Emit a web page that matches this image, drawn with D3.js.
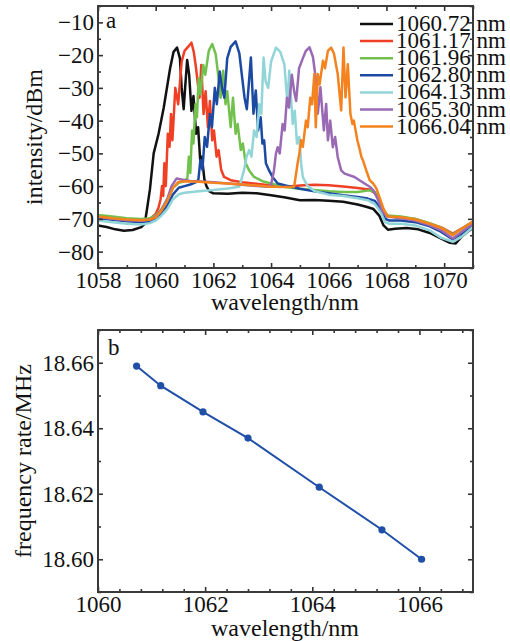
<!DOCTYPE html>
<html><head><meta charset="utf-8">
<script src="https://cdn.jsdelivr.net/npm/d3@7"></script>
<style>
body{margin:0;background:#fff;}
</style></head>
<body><svg id="c" width="510" height="641"></svg>
<script>
// ---------- DATA ----------
const seriesNames = ["1060.72 nm","1061.17 nm","1061.96 nm","1062.80 nm","1064.13 nm","1065.30 nm","1066.04 nm"];
const seriesColors = ["#111111","#ef4026","#72c14f","#1c4aa3","#92d5d8","#9a69b4","#f4821f"];

const spec1060_72 = [[1058.0,-72.0],[1058.3,-72.5],[1058.6,-73.2],[1058.9,-73.6],[1059.2,-73.4],[1059.5,-72.5],[1059.62,-71.5],[1059.7,-67],[1059.8,-61],[1059.93,-50],[1060.1,-44],[1060.28,-36],[1060.5,-24],[1060.62,-19],[1060.74,-17.7],[1060.84,-21],[1060.9,-30],[1060.97,-36.5],[1061.02,-30],[1061.09,-21.5],[1061.16,-26],[1061.24,-37],[1061.31,-32.5],[1061.4,-44],[1061.47,-42],[1061.55,-53],[1061.6,-51],[1061.69,-58],[1061.76,-60],[1061.85,-61.5],[1062.0,-62.2],[1062.5,-62.3],[1063.0,-62.0],[1063.5,-62.2],[1064.0,-62.8],[1064.5,-63.5],[1065.0,-64.3],[1065.5,-64.2],[1066.0,-64.5],[1066.5,-64.8],[1067.0,-65.6],[1067.3,-66.3],[1067.55,-67],[1067.75,-69],[1067.9,-72],[1068.05,-73.3],[1068.3,-73],[1068.7,-72.8],[1069.1,-73.2],[1069.5,-74.3],[1069.9,-76],[1070.2,-77.3],[1070.4,-77.5],[1070.6,-75.5],[1070.8,-74],[1071.0,-72.8]];
const spec1061_17 = [[1058.0,-69.5],[1058.5,-70.0],[1059.0,-70.4],[1059.5,-70.5],[1059.8,-70],[1060.0,-68.5],[1060.1,-66.5],[1060.17,-64],[1060.22,-60],[1060.26,-63],[1060.3,-53],[1060.35,-60],[1060.42,-44],[1060.48,-48],[1060.53,-38],[1060.58,-46],[1060.68,-30],[1060.78,-35],[1060.9,-22],[1061.0,-18.7],[1061.12,-17.5],[1061.24,-16.2],[1061.32,-19],[1061.4,-24],[1061.45,-28],[1061.52,-33],[1061.58,-23],[1061.66,-38],[1061.73,-31],[1061.81,-42],[1061.88,-34],[1061.96,-46],[1062.02,-43],[1062.11,-51],[1062.18,-49],[1062.27,-55],[1062.37,-57.2],[1062.6,-58.2],[1063.0,-58.8],[1063.5,-59.3],[1064.0,-59.8],[1064.5,-60.2],[1065.0,-59.8],[1065.5,-59.6],[1066.0,-59.7],[1066.5,-60.1],[1067.0,-60.6],[1067.4,-61],[1067.65,-62.5],[1067.8,-65],[1067.95,-68.5],[1068.1,-69.3],[1068.5,-69.5],[1069.0,-70],[1069.5,-71.5],[1069.9,-72.6],[1070.3,-74.5],[1070.6,-73],[1071.0,-70.8]];
const spec1061_96 = [[1058.0,-68.8],[1058.5,-69.3],[1059.0,-69.8],[1059.5,-70.0],[1059.8,-69.8],[1060.0,-69],[1060.2,-67],[1060.4,-64],[1060.6,-60.5],[1060.8,-59],[1061.0,-58.5],[1061.1,-57.5],[1061.15,-51],[1061.2,-56],[1061.26,-43],[1061.31,-47],[1061.38,-35],[1061.43,-39],[1061.49,-27],[1061.55,-32],[1061.65,-23],[1061.72,-26],[1061.84,-18.7],[1061.96,-16.6],[1062.08,-19.7],[1062.19,-27.8],[1062.25,-33],[1062.34,-24.8],[1062.42,-35],[1062.48,-31],[1062.6,-42],[1062.68,-33],[1062.77,-44],[1062.84,-41],[1062.95,-49],[1063.02,-47],[1063.12,-53],[1063.24,-55.2],[1063.41,-57.2],[1063.7,-58.5],[1064.0,-59.2],[1064.5,-60.3],[1065.0,-60.8],[1065.5,-61.2],[1066.0,-61.6],[1066.5,-61.8],[1067.0,-61.8],[1067.4,-61.3],[1067.6,-61.8],[1067.75,-64],[1067.9,-67.5],[1068.05,-69],[1068.5,-69.3],[1069.0,-70],[1069.5,-71.3],[1069.9,-72.7],[1070.3,-74.8],[1070.6,-73],[1071.0,-71]];
const spec1062_80 = [[1058.0,-69.8],[1058.5,-70.3],[1059.0,-70.7],[1059.5,-71],[1059.8,-70.8],[1060.0,-70],[1060.2,-68.5],[1060.4,-66],[1060.6,-62.5],[1060.8,-60.5],[1061.0,-60],[1061.2,-59.5],[1061.4,-58.8],[1061.48,-58],[1061.55,-52],[1061.62,-55],[1061.7,-45],[1061.78,-48],[1061.88,-38],[1061.95,-42],[1062.05,-30],[1062.12,-35],[1062.22,-25],[1062.3,-30],[1062.38,-33],[1062.48,-21],[1062.6,-17.5],[1062.77,-15.8],[1062.9,-19.5],[1063.0,-27],[1063.08,-33],[1063.16,-36.5],[1063.3,-20.7],[1063.39,-37.9],[1063.47,-30.8],[1063.55,-43],[1063.64,-39],[1063.7,-47],[1063.76,-46],[1063.82,-53],[1063.93,-55.2],[1064.05,-57.2],[1064.23,-59.2],[1064.5,-59.8],[1065.0,-60.8],[1065.5,-61.6],[1066.0,-62.2],[1066.5,-62.8],[1067.0,-63.3],[1067.35,-63.8],[1067.6,-64.5],[1067.8,-67],[1067.95,-70],[1068.1,-70.5],[1068.5,-70.5],[1069.0,-71],[1069.5,-72.3],[1069.9,-74],[1070.3,-76.3],[1070.6,-74.5],[1071.0,-72]];
const spec1064_13 = [[1058.0,-70.5],[1058.5,-71],[1059.0,-71.5],[1059.5,-71.7],[1059.8,-71.3],[1060.0,-70.5],[1060.2,-69],[1060.4,-67],[1060.6,-64],[1060.8,-62.5],[1061.0,-62],[1061.5,-61.6],[1062.0,-61.2],[1062.5,-60.7],[1062.9,-60.2],[1063.06,-55.2],[1063.15,-51],[1063.24,-49],[1063.32,-51],[1063.41,-43],[1063.5,-45],[1063.59,-35],[1063.66,-38],[1063.74,-20.7],[1063.81,-28],[1063.9,-30],[1064.0,-22],[1064.17,-17.7],[1064.32,-19],[1064.46,-22.8],[1064.57,-34.9],[1064.63,-24.8],[1064.75,-41],[1064.82,-37],[1064.9,-47],[1064.98,-45],[1065.04,-53],[1065.1,-57.2],[1065.25,-59.8],[1065.5,-61.5],[1066.0,-62.6],[1066.5,-63],[1067.0,-63.7],[1067.35,-64.3],[1067.6,-65.5],[1067.8,-68],[1067.95,-71],[1068.1,-71.5],[1068.5,-71.5],[1069.0,-72],[1069.5,-73.5],[1069.9,-75.8],[1070.3,-77],[1070.6,-75.5],[1071.0,-72.5]];
const spec1065_30 = [[1058.0,-69.5],[1058.5,-70],[1059.0,-70.4],[1059.5,-70.6],[1059.8,-70.3],[1060.0,-69.3],[1060.2,-67.3],[1060.4,-64],[1060.55,-60],[1060.72,-57.7],[1060.9,-58],[1061.2,-58.4],[1061.6,-58.6],[1062.0,-58.8],[1062.5,-59.2],[1063.0,-59.6],[1063.5,-60],[1063.9,-60.2],[1064.0,-59.5],[1064.1,-55.2],[1064.17,-50],[1064.23,-48.1],[1064.3,-50],[1064.4,-41],[1064.47,-43],[1064.55,-33],[1064.62,-36],[1064.72,-26],[1064.8,-31],[1064.87,-34],[1064.97,-24],[1065.1,-21],[1065.2,-18.8],[1065.33,-17.6],[1065.45,-20.5],[1065.56,-27.8],[1065.62,-37.9],[1065.71,-29.8],[1065.83,-43],[1065.91,-34.9],[1065.97,-46],[1066.05,-40],[1066.14,-48.1],[1066.22,-45],[1066.31,-51.1],[1066.43,-55.2],[1066.55,-56.2],[1066.89,-57.2],[1067.24,-59.2],[1067.42,-60.2],[1067.54,-61.2],[1067.7,-64],[1067.85,-67.5],[1068.0,-69.3],[1068.5,-69.8],[1069.0,-70.5],[1069.5,-72],[1069.9,-73.5],[1070.3,-76],[1070.6,-74],[1071.0,-71.5]];
const spec1066_04 = [[1058.0,-69.3],[1058.5,-69.8],[1059.0,-70.2],[1059.5,-70.4],[1059.8,-70.2],[1060.0,-69.5],[1060.2,-67.5],[1060.4,-64.5],[1060.6,-60.5],[1060.79,-58.7],[1061.0,-58.5],[1061.5,-58.7],[1062.0,-59],[1062.5,-59.2],[1063.0,-59.5],[1063.5,-59.8],[1064.0,-60.2],[1064.5,-60.3],[1064.8,-60.2],[1064.92,-53],[1064.98,-50],[1065.04,-46],[1065.1,-48],[1065.21,-40],[1065.27,-42],[1065.36,-33],[1065.42,-35],[1065.5,-25.8],[1065.55,-42],[1065.62,-25.8],[1065.68,-29],[1065.8,-21.7],[1065.87,-24],[1065.97,-18.7],[1066.08,-17.7],[1066.18,-19.5],[1066.31,-25.8],[1066.43,-36.9],[1066.51,-17.7],[1066.58,-32.9],[1066.66,-22.8],[1066.75,-37.9],[1066.82,-41],[1066.87,-40],[1066.99,-46],[1067.05,-48],[1067.13,-51],[1067.2,-52.5],[1067.3,-55.2],[1067.42,-58.2],[1067.54,-59.2],[1067.65,-60.7],[1067.77,-63.7],[1067.9,-67],[1068.05,-69.3],[1068.5,-69.5],[1069.0,-70.2],[1069.5,-71.5],[1069.9,-72.8],[1070.3,-75],[1070.6,-73],[1071.0,-70.9]];
const spectra = [spec1060_72,spec1061_17,spec1061_96,spec1062_80,spec1064_13,spec1065_30,spec1066_04];

const aXTicks = [1058,1060,1062,1064,1066,1068,1070];
const aYTicks = [-80,-70,-60,-50,-40,-30,-20,-10];
const aYTickLabels = ["−80","−70","−60","−50","−40","−30","−20","−10"];

const bWavelength = [1060.72,1061.17,1061.96,1062.80,1064.13,1065.30,1066.04];
const bFreqRate = [18.659,18.653,18.645,18.637,18.622,18.609,18.600];
const bXTicks = [1060,1062,1064,1066];
const bYTicks = [18.60,18.62,18.64,18.66];
const bYTickLabels = ["18.60","18.62","18.64","18.66"];

// ---------- FONT PICK ----------
function pickFont(){
  const c = document.createElement("canvas").getContext("2d");
  const probe = "wavelength/nm 1060.72 abcXYZ";
  const cands = ["Liberation Serif","Times New Roman","Tinos","Nimbus Roman","Nimbus Roman No9 L","Times","FreeSerif","DejaVu Serif"];
  for (const f of cands){
    for (const fb of ["monospace","sans-serif"]){
      c.font = `40px ${fb}`; const w0 = c.measureText(probe).width;
      c.font = `40px "${f}", ${fb}`; const w1 = c.measureText(probe).width;
      if (Math.abs(w1-w0) > 0.5) return `"${f}", serif`;
    }
  }
  return "serif";
}
const FONT = pickFont();

// ---------- DRAW ----------
const svg = d3.select("#c").style("font-family", FONT);
const FS = 23;
function frameAxes(g, x, y, xMaj, xMin, yMaj, yMin, xFmt, yFmt){
  const [x0,x1] = x.range(), [y1,y0] = y.range();
  const ax = g.append("g");
  const mk = (axis, tr) => { const s = ax.append("g").attr("transform", tr).call(axis);
    s.attr("font-family", FONT).attr("font-size", FS);
    s.select(".domain").remove(); s.selectAll("line").attr("stroke","#333").attr("stroke-width",1.6);
    s.selectAll("text").attr("fill","#111"); return s; };
  mk(d3.axisBottom(x).tickValues(xMaj).tickSize(-5).tickPadding(4).tickFormat(xFmt), `translate(0,${y1})`);
  mk(d3.axisBottom(x).tickValues(xMin).tickSize(-3).tickFormat(""), `translate(0,${y1})`);
  mk(d3.axisTop(x).tickValues(xMaj).tickSize(-5).tickFormat(""), `translate(0,${y0})`);
  mk(d3.axisTop(x).tickValues(xMin).tickSize(-3).tickFormat(""), `translate(0,${y0})`);
  mk(d3.axisLeft(y).tickValues(yMaj).tickSize(-5).tickPadding(4).tickFormat(yFmt), `translate(${x0},0)`);
  mk(d3.axisLeft(y).tickValues(yMin).tickSize(-3).tickFormat(""), `translate(${x0},0)`);
  mk(d3.axisRight(y).tickValues(yMaj).tickSize(-5).tickFormat(""), `translate(${x1},0)`);
  mk(d3.axisRight(y).tickValues(yMin).tickSize(-3).tickFormat(""), `translate(${x1},0)`);
  g.append("rect").attr("x",x0).attr("y",y0).attr("width",x1-x0).attr("height",y1-y0)
    .attr("fill","none").attr("stroke","#3a3a3a").attr("stroke-width",2);
}
function label(g, attrs, size, txt){
  const t = g.append("text").attr("font-family", FONT).attr("font-size", size).attr("fill","#111").text(txt);
  Object.entries(attrs).forEach(([k,v])=>t.attr(k,v));
  return t;
}

// Panel a
const xa = d3.scaleLinear().domain([1058,1071]).range([98,473]);
const ya = d3.scaleLinear().domain([-85,-5]).range([268,6]);
const ga = svg.append("g");
svg.append("clipPath").attr("id","ca").append("rect").attr("x",98).attr("y",6).attr("width",375).attr("height",262);
const lineA = d3.line().x(d=>xa(d[0])).y(d=>ya(d[1]));
const gl = ga.append("g").attr("clip-path","url(#ca)");
spectra.forEach((s,i)=>{
  gl.append("path").attr("d",lineA(s)).attr("fill","none").attr("stroke",seriesColors[i])
    .attr("stroke-width",2.5).attr("stroke-linejoin","round");
});
const aXMinor = d3.range(1059,1071.01,2);
const aYMinor = [-85,-75,-65,-55,-45,-35,-25,-15,-5];
frameAxes(ga, xa, ya, aXTicks, aXMinor, aYTicks, aYMinor, d=>String(d), (d,i)=>aYTickLabels[i]);
label(ga, {x:106, y:28}, 23, "a");
label(ga, {x:285, y:310, "text-anchor":"middle"}, 24, "wavelength/nm");
label(ga, {transform:"translate(42,137) rotate(-90)", "text-anchor":"middle"}, 24, "intensity/dBm");
// legend
const lg = ga.append("g");
seriesNames.forEach((n,i)=>{
  const yy = 24 + i*17.1;
  lg.append("line").attr("x1",360).attr("x2",393).attr("y1",yy).attr("y2",yy).attr("stroke",seriesColors[i]).attr("stroke-width",2.5);
  label(lg, {x:396, y:yy+7}, 23, n);
});

// Panel b
const xb = d3.scaleLinear().domain([1060,1067]).range([98,473]);
const yb = d3.scaleLinear().domain([18.59,18.67]).range([592,330]);
const gb = svg.append("g");
const pts = bWavelength.map((w,i)=>[w,bFreqRate[i]]);
gb.append("path").attr("d",d3.line().x(d=>xb(d[0])).y(d=>yb(d[1]))(pts)).attr("fill","none")
  .attr("stroke","#1f4fa6").attr("stroke-width",2);
gb.selectAll("circle").data(pts).join("circle").attr("cx",d=>xb(d[0])).attr("cy",d=>yb(d[1])).attr("r",3.6).attr("fill","#1f4fa6");
const bXMinor = d3.range(1060,1067.01,0.4).filter(v=>Math.abs(v/2-Math.round(v/2))>0.01);
const bYMinor = [18.59,18.61,18.63,18.65,18.67];
frameAxes(gb, xb, yb, bXTicks, bXMinor, bYTicks, bYMinor, d=>String(d), (d,i)=>bYTickLabels[i]);
label(gb, {x:108, y:355}, 23, "b");
label(gb, {x:285, y:636, "text-anchor":"middle"}, 24, "wavelength/nm");
label(gb, {transform:"translate(31,461) rotate(-90)", "text-anchor":"middle"}, 24, "frequency rate/MHz");
</script></body></html>
